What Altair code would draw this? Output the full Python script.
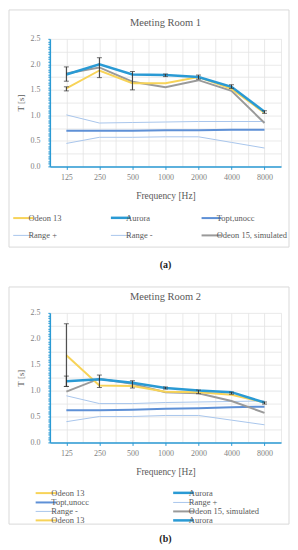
import json
import altair as alt
import pandas as pd

freqs = ["125", "250", "500", "1000", "2000", "4000", "8000"]

series_names = ["Odeon 13", "Aurora", "Topt,unocc", "Range +", "Range -", "Odeon 15, simulated"]
series_colors = ["#F7D358", "#2A9AD4", "#5E90D6", "#A9C6EC", "#A9C6EC", "#9A9A9A"]
series_widths = [2, 2.5, 2, 1, 1, 2]

# Meeting Room 1
r1_odeon13 = [1.53, 1.88, 1.63, 1.63, 1.75, 1.52, 1.05]
r1_aurora = [1.80, 2.00, 1.80, 1.79, 1.75, 1.56, 1.07]
r1_topt = [0.70, 0.70, 0.70, 0.71, 0.71, 0.72, 0.72]
r1_range_plus = [1.01, 0.85, 0.86, 0.87, 0.88, 0.88, 0.88]
r1_range_minus = [0.45, 0.57, 0.57, 0.58, 0.58, 0.47, 0.36]
r1_odeon15 = [1.82, 1.94, 1.66, 1.55, 1.69, 1.48, 0.85]
r1_err_idx = [0, 0, 1, 2, 3, 4, 5, 6]
r1_err_lo = [1.67, 1.48, 1.74, 1.50, 1.76, 1.71, 1.53, 1.04]
r1_err_hi = [1.95, 1.56, 2.13, 1.86, 1.81, 1.79, 1.60, 1.09]

# Meeting Room 2
r2_odeon13 = [1.68, 1.10, 1.09, 0.98, 0.97, 0.92, 0.77]
r2_aurora = [1.18, 1.22, 1.15, 1.05, 1.00, 0.97, 0.77]
r2_topt = [0.62, 0.62, 0.63, 0.65, 0.66, 0.68, 0.69]
r2_range_plus = [0.90, 0.75, 0.75, 0.77, 0.78, 0.79, 0.80]
r2_range_minus = [0.40, 0.50, 0.50, 0.52, 0.52, 0.43, 0.34]
r2_odeon15 = [0.98, 1.23, 1.13, 0.97, 0.95, 0.80, 0.57]
r2_err_idx = [0, 0, 1, 2, 3, 4, 5, 6]
r2_err_lo = [1.08, 1.08, 1.06, 1.05, 1.03, 0.94, 0.93, 0.74]
r2_err_hi = [1.28, 2.29, 1.30, 1.19, 1.07, 1.01, 0.97, 0.78]

FONT = "Liberation Serif"
BLUE = "#2A9AD4"
width_of = dict(zip(series_names, series_widths))


def long_df(values):
    rows = []
    order = ["Range -", "Range +", "Topt,unocc", "Odeon 15, simulated", "Odeon 13", "Aurora"]
    for name in order:
        for i, v in enumerate(values[name]):
            rows.append({"series": name, "idx": i, "T": v, "w": width_of[name]})
    return pd.DataFrame(rows)


x_vals = [i * 0.5 - 0.5 for i in range(15)]
y_vals = [round(i * 0.05, 2) for i in range(51)]
is_int = "abs(datum.value - round(datum.value)) < 0.01"
label_x = f"{is_int} ? {json.dumps(freqs)}[round(datum.value)] : ''"
sym_w = ("indexof(['Range +','Range -'], datum.value) >= 0 ? 1 : "
         "(indexof(['Aurora','Aurora '], datum.value) >= 0 ? 2.5 : 2)")

x_axis = alt.Axis(values=x_vals, labelExpr=label_x, title="Frequency [Hz]",
                  grid=True, gridColor="#E3E3E3", gridWidth=0.8,
                  domainColor=BLUE, domainWidth=1.5,
                  tickColor=BLUE, tickSize=3,
                  tickOpacity={"condition": {"test": is_int, "value": 1}, "value": 0},
                  labelFont=FONT, labelFontSize=8, labelColor="#7F7F7F",
                  labelPadding=4, labelOverlap=False, labelFlush=False,
                  titleFont=FONT, titleFontSize=9.5, titleFontWeight="normal",
                  titleColor="#595959", titlePadding=9)
y_axis = alt.Axis(values=y_vals, title="T [s]",
                  labelExpr="abs(datum.value*2 - round(datum.value*2)) < 0.01 ? format(datum.value, '.1f') : ''",
                  grid=True, gridColor="#E3E3E3", gridWidth=0.8,
                  gridOpacity={"condition": {"test": "abs(datum.value*4 - round(datum.value*4)) < 0.01", "value": 1}, "value": 0},
                  domainColor=BLUE, domainWidth=1.5,
                  tickColor=BLUE, tickSize=2,
                  labelFont=FONT, labelFontSize=8, labelColor="#7F7F7F",
                  labelPadding=8, labelOverlap=False, labelFlush=False,
                  titleFont=FONT, titleFontSize=9, titleFontWeight="normal",
                  titleColor="#595959", titlePadding=4)


def panel(values, err_idx, err_lo, err_hi, title, caption, height, frame_top, frame_bottom,
          caption_y, legend_cfg, domain, colors):
    df = long_df(values)
    err = pd.DataFrame({"idx": err_idx, "lo": err_lo, "hi": err_hi})

    x_scale = alt.Scale(domain=[-0.5, 6.5], nice=False, zero=False)
    y_scale = alt.Scale(domain=[0, 2.5], nice=False)
    x = alt.X("idx:Q", scale=x_scale, axis=x_axis)

    legend = alt.Legend(title=None, orient="none", direction="horizontal",
                        symbolType="stroke", labelFont=FONT, labelFontSize=8.5,
                        labelColor="#595959", labelOffset=1,
                        symbolStrokeWidth=alt.ExprRef(expr=sym_w),
                        **legend_cfg)

    lines = alt.Chart(df).mark_line().encode(
        x=x, y=alt.Y("T:Q", scale=y_scale, axis=y_axis),
        color=alt.Color("series:N", scale=alt.Scale(domain=domain, range=colors), legend=legend),
        strokeWidth=alt.StrokeWidth("w:Q", scale=None),
    )

    rule = alt.Chart(err).mark_rule(color="#333333", strokeWidth=1).encode(
        x=x, y=alt.Y("lo:Q", scale=y_scale, axis=y_axis), y2="hi:Q")
    cap_lo = alt.Chart(err).mark_tick(color="#333333", orient="horizontal", size=5, thickness=1).encode(
        x=x, y=alt.Y("lo:Q", scale=y_scale, axis=y_axis))
    cap_hi = alt.Chart(err).mark_tick(color="#333333", orient="horizontal", size=5, thickness=1).encode(
        x=x, y=alt.Y("hi:Q", scale=y_scale, axis=y_axis))

    one = pd.DataFrame({"a": [0]})
    frame = alt.Chart(one).mark_rect(fillOpacity=0, stroke="#D9D9D9", strokeWidth=1).encode(
        x=alt.value(-41), x2=alt.value(240), y=alt.value(frame_top), y2=alt.value(frame_bottom))
    title_txt = alt.Chart(one).mark_text(text=title, font=FONT, fontSize=10.5, color="#595959").encode(
        x=alt.value(116), y=alt.value(-16))
    cap_txt = alt.Chart(one).mark_text(text=caption, font=FONT, fontSize=10, fontWeight="bold", color="#222222").encode(
        x=alt.value(116), y=alt.value(caption_y))

    return alt.layer(lines, rule, cap_lo, cap_hi, frame, title_txt, cap_txt).properties(
        width=232, height=height)


vals1 = {"Odeon 13": r1_odeon13, "Aurora": r1_aurora, "Topt,unocc": r1_topt,
         "Range +": r1_range_plus, "Range -": r1_range_minus, "Odeon 15, simulated": r1_odeon15}
vals2 = {"Odeon 13": r2_odeon13, "Aurora": r2_aurora, "Topt,unocc": r2_topt,
         "Range +": r2_range_plus, "Range -": r2_range_minus, "Odeon 15, simulated": r2_odeon15}

p1 = panel(vals1, r1_err_idx, r1_err_lo, r1_err_hi, "Meeting Room 1", "(a)", 128, -29, 209, 227,
           dict(columns=3, columnPadding=44, rowPadding=8, symbolSize=400, legendX=-31, legendY=175),
           series_names, series_colors)

domain2 = series_names + ["Odeon 13 ", "Aurora "]
p2 = panel(vals2, r2_err_idx, r2_err_lo, r2_err_hi, "Meeting Room 2", "(b)", 130, -26, 212, 227,
           dict(columns=2, columnPadding=78, rowPadding=-7, symbolSize=441, legendX=-8, legendY=176),
           domain2, series_colors + [series_colors[0], series_colors[1]])

chart = alt.vconcat(p1, p2, spacing=16).resolve_scale(color="independent").properties(
    padding=0).configure_view(stroke=None)

chart.save("out.html", embed_options={"renderer": "svg", "actions": False})
